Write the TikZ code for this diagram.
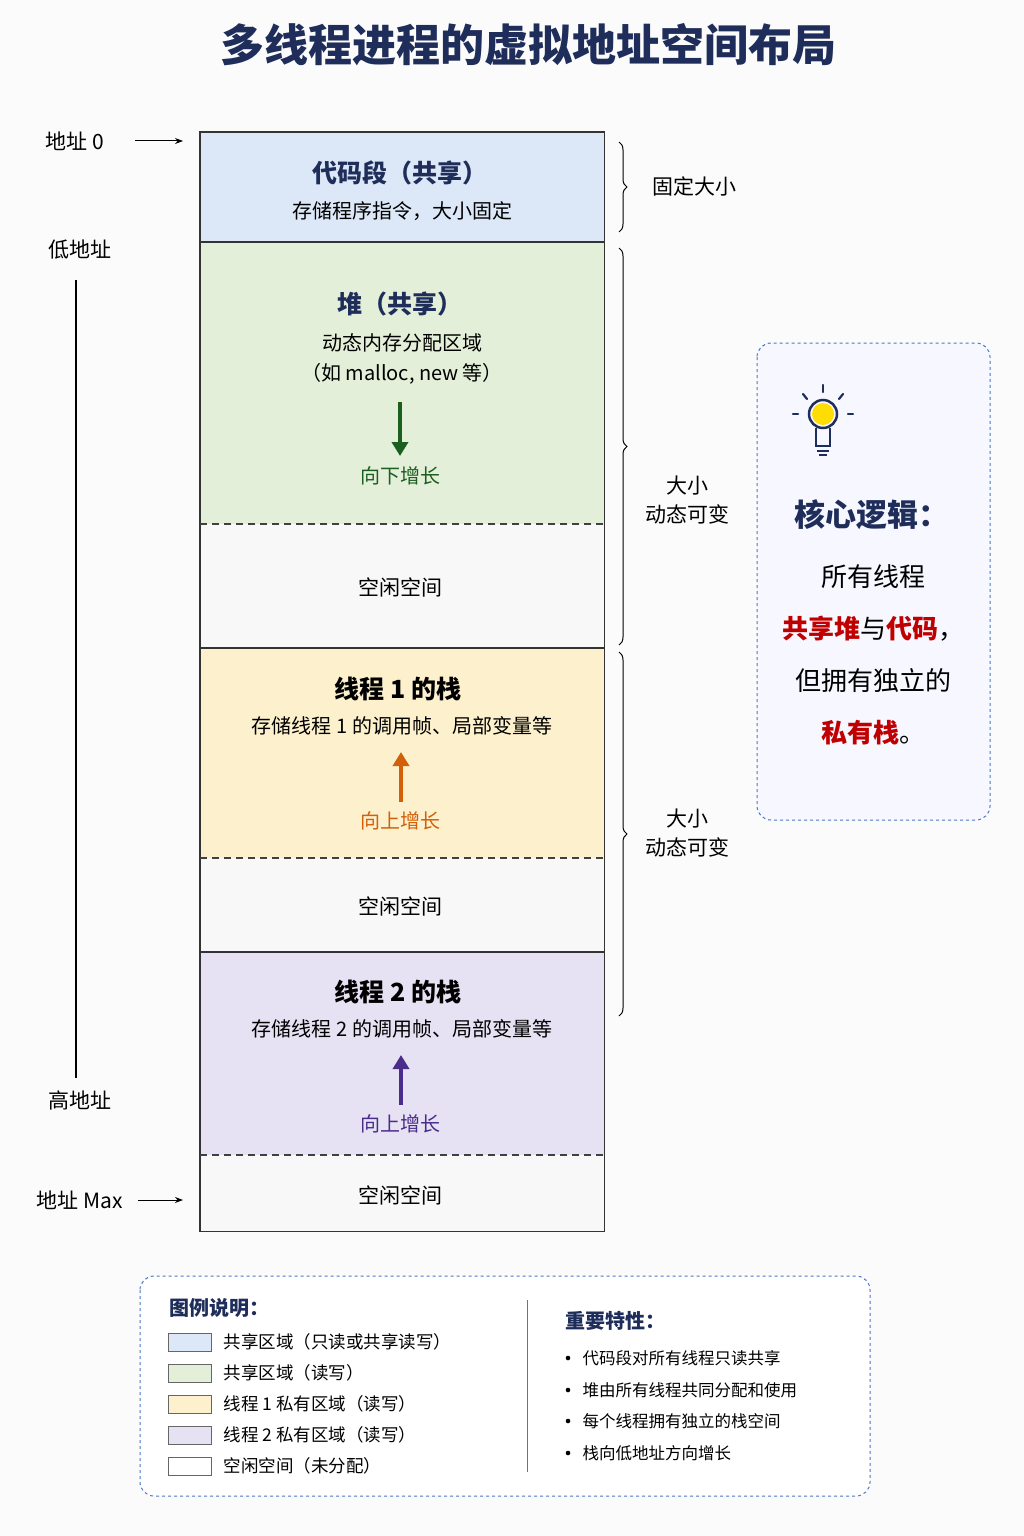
\documentclass[tikz,border=0pt]{standalone}
\usepackage{fontspec}
\setmainfont{Noto Sans CJK SC}
\usetikzlibrary{decorations.pathreplacing,arrows.meta}
\definecolor{navy}{HTML}{1F2D5A}
\definecolor{cblue}{HTML}{DCE8F7}
\definecolor{cgreen}{HTML}{E3EFD9}
\definecolor{cyel}{HTML}{FDF0CC}
\definecolor{cpur}{HTML}{E6E2F4}
\definecolor{cfree}{HTML}{F8F8F8}
\definecolor{dgreen}{HTML}{1B5E20}
\definecolor{dorange}{HTML}{D2600A}
\definecolor{dpur}{HTML}{4A2C8A}
\definecolor{dred}{HTML}{C00000}
\definecolor{dashblue}{HTML}{4A78C8}
\begin{document}
\begin{tikzpicture}[x=1pt,y=-1pt,
  blk/.style={draw=none,minimum width=404pt,anchor=north west,inner sep=0pt},
  ttl/.style={font=\fontsize{25}{29}\selectfont\bfseries},
  sub/.style={font=\fontsize{20}{24}\selectfont},
  lbl/.style={font=\fontsize{21}{25}\selectfont},
  growarrow/.style={-{Triangle[length=14pt,width=16pt]},line width=3.5pt},
  brc/.style={decorate,decoration={brace,amplitude=8pt},line width=1pt},
  leg/.style={font=\fontsize{17.5}{20}\selectfont,anchor=west},
  sw/.style={draw=black!60,minimum width=43pt,minimum height=18pt,inner sep=0pt}]
\fill[white!97!gray] (0,0) rectangle (1024,1536);
\useasboundingbox (0,0) rectangle (1024,1536);
\node[font=\fontsize{44}{50}\selectfont\bfseries,text=navy] (title) at (528,45) {多线程进程的虚拟地址空间布局};
% blocks
\node[blk,fill=cblue,minimum height=110pt] (code) at (200,132) {};
\node[blk,fill=cgreen,minimum height=282pt] (heap) at (200,242) {};
\node[blk,fill=cfree,minimum height=124pt] (f1) at (200,524) {};
\node[blk,fill=cyel,minimum height=210pt] (t1) at (200,648) {};
\node[blk,fill=cfree,minimum height=94pt] (f2) at (200,858) {};
\node[blk,fill=cpur,minimum height=203pt] (t2) at (200,952) {};
\node[blk,fill=cfree,minimum height=76pt] (f3) at (200,1155) {};
\draw[draw=black!80,line width=1.2pt] (code.north west) rectangle (f3.south east);
\foreach \n in {heap,t1,t2} \draw[draw=black!80,line width=1.2pt] (\n.north west) -- (\n.north east);
\foreach \n in {f1,f2,f3} \draw[dashed,dash pattern=on 7pt off 5pt,line width=1.2pt,draw=black!75] (\n.north west) -- (\n.north east);
% text
\node[ttl,text=navy] (ct) at (400,173) {代码段（共享）};
\node[sub] (cs) at (402,211) {存储程序指令，大小固定};
\node[ttl,text=navy] (ht) at (400,304) {堆（共享）};
\node[sub] (hs1) at (402,343) {动态内存分配区域};
\node[sub] (hs2) at (402,374) {（如 malloc, new 等）};
\coordinate (ha1) at (400,402); \coordinate (ha2) at (400,456);
\draw[growarrow,draw=dgreen] (ha1) -- (ha2);
\node[sub,text=dgreen] (hg) at (400,476) {向下增长};
\node[lbl] (f1t) at (400,587) {空闲空间};
\node[ttl] (t1t) at (398,689) {线程 1 的栈};
\node[sub] (t1s) at (402,726) {存储线程 1 的调用帧、局部变量等};
\coordinate (a1a) at (401,802); \coordinate (a1b) at (401,752);
\draw[growarrow,draw=dorange] (a1a) -- (a1b);
\node[sub,text=dorange] (t1g) at (400,821) {向上增长};
\node[lbl] (f2t) at (400,906) {空闲空间};
\node[ttl] (t2t) at (398,992) {线程 2 的栈};
\node[sub] (t2s) at (402,1029) {存储线程 2 的调用帧、局部变量等};
\coordinate (a2a) at (401,1105); \coordinate (a2b) at (401,1055);
\draw[growarrow,draw=dpur] (a2a) -- (a2b);
\node[sub,text=dpur] (t2g) at (400,1124) {向上增长};
\node[lbl] (f3t) at (400,1195) {空闲空间};
% left
\node[lbl] (a0) at (75,141) {地址 0};
\coordinate (a0e) at (183,141);
\draw[-{Stealth[length=8pt]},line width=1pt] (135,141) -- (a0e);
\node[lbl] (lo) at (80,250) {低地址};
\node[lbl] (hi) at (80,1100) {高地址};
\draw[line width=1.5pt] (76,280) -- (76,1078);
\node[lbl] (amax) at (80,1200) {地址 Max};
\coordinate (ame) at (183,1200);
\draw[-{Stealth[length=8pt]},line width=1pt] (138,1200) -- (ame);
% braces
\draw[brc] (619,142) -- (619,232);
\node[lbl] (b1) at (694,186) {固定大小};
\draw[brc] (619,248) -- (619,645);
\node[lbl,align=center] (b2) at (687,500) {大小\\[4pt]动态可变};
\draw[brc] (619,652) -- (619,1016);
\node[lbl,align=center] (b3) at (687,833) {大小\\[4pt]动态可变};
% callout
\draw[dashed,draw=dashblue,line width=1pt,rounded corners=14pt,fill=white!97!blue] (757,343) rectangle (990,820);
\fill[yellow!80!orange] (823,414) circle (11);
\draw[navy,line width=2.5pt] (823,414) circle (14);
\draw[navy,line width=2.5pt] (816,428) -- (816,446) -- (830,446) -- (830,428);
\draw[navy,line width=2pt] (817,451) -- (829,451);
\draw[navy,line width=2pt] (819,455) -- (827,455);
\draw[navy,line width=2.2pt,line cap=round] (823,385) -- (823,392);
\draw[navy,line width=2.2pt,line cap=round] (803,394) -- (807,399);
\draw[navy,line width=2.2pt,line cap=round] (843,394) -- (839,399);
\draw[navy,line width=2.2pt,line cap=round] (793,414) -- (798,414);
\draw[navy,line width=2.2pt,line cap=round] (848,414) -- (853,414);
\node[font=\fontsize{31}{34}\selectfont\bfseries,text=navy] (core) at (872,515) {核心逻辑：};
\node[font=\fontsize{26}{30}\selectfont] (c1) at (873,577) {所有线程};
\node[font=\fontsize{26}{30}\selectfont] (c2) at (873,629) {\textcolor{dred}{\bfseries 共享堆}与\textcolor{dred}{\bfseries 代码}，};
\node[font=\fontsize{26}{30}\selectfont] (c3) at (873,681) {但拥有独立的};
\node[font=\fontsize{26}{30}\selectfont] (c4) at (873,733) {\textcolor{dred}{\bfseries 私有栈}。};
% legend
\draw[dashed,draw=dashblue,line width=1pt,rounded corners=14pt,fill=white] (140,1276) rectangle (870,1496);
\draw[draw=dashblue,line width=1pt] (527,1300) -- (527,1472);
\node[font=\fontsize{20}{24}\selectfont\bfseries,text=navy,anchor=west] (lt) at (166,1308) {图例说明：};
\foreach \y/\c/\t [count=\i] in {1342/cblue/共享区域（只读或共享读写）,1373/cgreen/共享区域（读写）,1404/cyel/线程 1 私有区域（读写）,1435/cpur/线程 2 私有区域（读写）,1466/white/空闲空间（未分配）}{
  \node[sw,fill=\c] (s\i) at (189.5,\y) {};
  \node[leg] (l\i) at (220,\y) {\t};
}
\node[font=\fontsize{20}{24}\selectfont\bfseries,text=navy,anchor=west] (rt) at (562,1321) {重要特性：};
\foreach \y/\t [count=\i] in {1358/代码段对所有线程只读共享,1390/堆由所有线程共同分配和使用,1421/每个线程拥有独立的栈空间,1453/栈向低地址方向增长}{
  \fill (568,\y) circle (2.3);
  \node[leg,font=\fontsize{16.5}{20}\selectfont] (r\i) at (579,\y) {\t};
}
\end{tikzpicture}
\end{document}
